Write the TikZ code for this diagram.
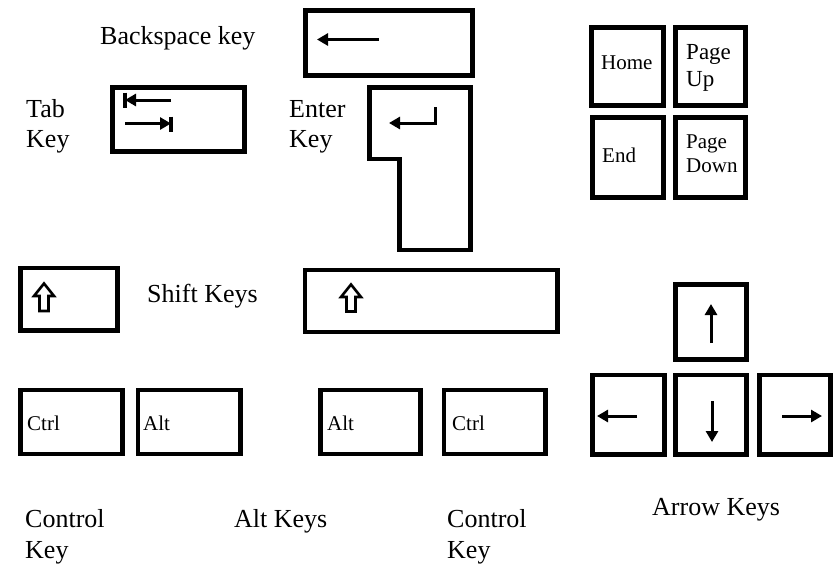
\documentclass[tikz,border=0pt]{standalone}
\usepackage{fontspec}
\setmainfont{Liberation Serif}
\usetikzlibrary{arrows.meta}
\begin{document}
\begin{tikzpicture}[x=1pt,y=-1pt,
  keybox/.style={draw,line width=4.5pt,minimum width=#1,inner sep=0pt,outer sep=0pt},
  bigtxt/.style={anchor=base west,inner sep=0pt,font=\fontsize{26}{30}\selectfont},
  smalltxt/.style={anchor=base west,inner sep=0pt,font=\fontsize{21}{24}\selectfont},
  arr/.style={line width=3pt,-{Triangle[length=11pt,width=12pt]}},
  hollow/.style={line width=2.6pt,line join=miter}]
\useasboundingbox (0,0) rectangle (834,563);
% backspace
\node[keybox=167pt,minimum height=65pt] (bksp) at (389,43) {};
\coordinate (bkA) at (379,39.5); \coordinate (bkB) at (317,39.5);
\draw[arr] (bkA) -- (bkB);
\node[bigtxt] (bktxt) at (100,44) {Backspace key};
% tab
\node[keybox=132pt,minimum height=64pt] (tab) at (178.5,119.5) {};
\coordinate (t1a) at (171,100); \coordinate (t1b) at (125,100);
\draw[arr] (t1a) -- (t1b);
\coordinate (t1c) at (125,92.5); \coordinate (t1d) at (125,108);
\draw[line width=3.5pt] (t1c) -- (t1d);
\coordinate (t2a) at (125,123.5); \coordinate (t2b) at (171,123.5);
\draw[arr] (t2a) -- (t2b);
\coordinate (t2c) at (171,116.5); \coordinate (t2d) at (171,132);
\draw[line width=3.5pt] (t2c) -- (t2d);
\node[bigtxt] (tabtxt) at (26,117) {Tab};
\node[bigtxt] (tabkey) at (26,147) {Key};
% enter
\draw[line width=4.5pt,line join=miter] (369.5,87.5) -- (470.5,87.5) -- (470.5,250) -- (399.5,250) -- (399.5,159) -- (369.5,159) -- cycle;
\coordinate (e1) at (435,107); \coordinate (e2) at (435,123); \coordinate (e3) at (389,123);
\draw[arr,line join=miter] (e1) -- (e2) -- (e3);
\node[bigtxt] (entxt) at (289,117) {Enter};
\node[bigtxt] (enkey) at (289,147) {Key};
% home block
\node[keybox=72pt,minimum height=78pt,line width=5pt] (home) at (627.6,66.5) {};
\node[keybox=70.6pt,minimum height=78pt,line width=5pt] (pgup) at (710.5,66.5) {};
\node[keybox=71pt,minimum height=80pt,line width=5pt] (end) at (628,157.5) {};
\node[keybox=70.6pt,minimum height=80pt,line width=5pt] (pgdn) at (710.5,157.5) {};
\node[smalltxt] (hometxt) at (601,69) {Home};
\node[anchor=base west,inner sep=0pt,font=\fontsize{23}{27}\selectfont] (pg1) at (686,59) {Page};
\node[anchor=base west,inner sep=0pt,font=\fontsize{23}{27}\selectfont] (up1) at (686,86) {Up};
\node[smalltxt] (endtxt) at (602,162) {End};
\node[smalltxt] (pg2) at (686,148) {Page};
\node[smalltxt] (dn2) at (686,172) {Down};
% shift
\node[keybox=97pt,minimum height=62.5pt] (shl) at (69,299) {};
\node[keybox=252.5pt,minimum height=62pt] (shr) at (431.25,301) {};
\draw[hollow] (44,283.5) -- (54,296) -- (48.5,296) -- (48.5,311) -- (39.5,311) -- (39.5,296) -- (34,296) -- cycle;
\draw[hollow] (351,284.5) -- (361,297) -- (355.5,297) -- (355.5,311.5) -- (346.5,311.5) -- (346.5,297) -- (341,297) -- cycle;
\node[bigtxt] (shtxt) at (147,302) {Shift Keys};
% ctrl / alt
\node[keybox=102pt,minimum height=64pt] (ctl) at (71.5,422) {};
\node[keybox=102.5pt,minimum height=64pt] (altl) at (189.25,422) {};
\node[keybox=100pt,minimum height=64pt] (altr) at (370.5,422) {};
\node[keybox=101.5pt,minimum height=64pt] (ctr) at (494.75,422) {};
\node[smalltxt] (c1) at (27,430) {Ctrl};
\node[smalltxt] (a1) at (143,430) {Alt};
\node[smalltxt] (a2) at (327,430) {Alt};
\node[smalltxt] (c2) at (452,430) {Ctrl};
\node[bigtxt] (con1) at (25,527) {Control};
\node[bigtxt] (con1k) at (25,558) {Key};
\node[bigtxt] (altk) at (234,527) {Alt Keys};
\node[bigtxt] (con2) at (447,527) {Control};
\node[bigtxt] (con2k) at (447,558) {Key};
% arrow keys
\node[keybox=71pt,minimum height=75pt] (up) at (711,322) {};
\node[keybox=72pt,minimum height=79.5pt] (lf) at (628.5,414.75) {};
\node[keybox=71pt,minimum height=79.5pt] (dn) at (711,414.75) {};
\node[keybox=71pt,minimum height=79.5pt] (rt) at (795,414.75) {};
\coordinate (u1) at (711,343); \coordinate (u2) at (711,304);
\draw[arr] (u1) -- (u2);
\coordinate (d1) at (712,401); \coordinate (d2) at (712,442);
\draw[arr] (d1) -- (d2);
\coordinate (l1) at (637,416); \coordinate (l2) at (597,416);
\draw[arr] (l1) -- (l2);
\coordinate (r1) at (782,416); \coordinate (r2) at (822,416);
\draw[arr] (r1) -- (r2);
\node[bigtxt] (arrtxt) at (652,515) {Arrow Keys};
\end{tikzpicture}
\end{document}
